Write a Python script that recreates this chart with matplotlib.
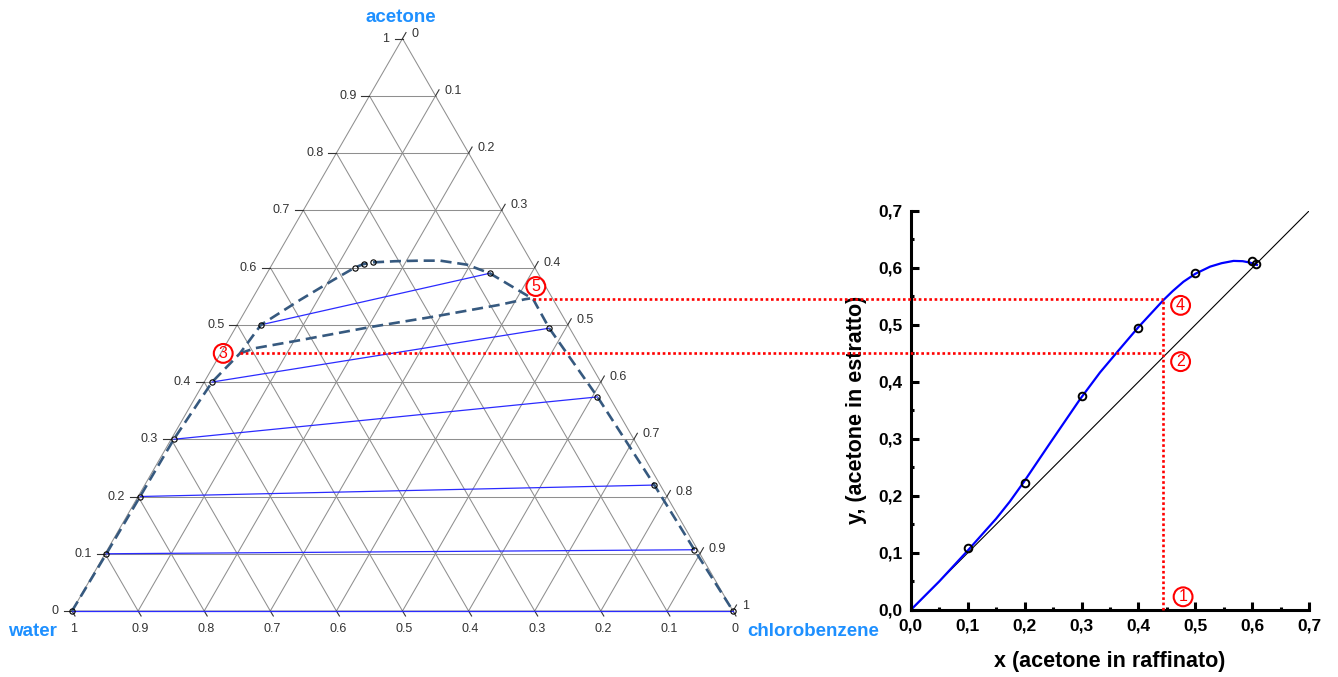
import numpy as np
import matplotlib
matplotlib.use('Agg')
import matplotlib.pyplot as plt
from matplotlib.ticker import MultipleLocator

plt.rcParams['font.family'] = ['Liberation Sans', 'DejaVu Sans']

# ---- ternary diagram (mass fractions) ----
# binodal: water corner -> plait region -> chlorobenzene corner
bin_acetone = [0.0, 0.10, 0.20, 0.30, 0.40, 0.45, 0.50, 0.543, 0.578, 0.600, 0.606, 0.609,
               0.611, 0.612, 0.612, 0.605, 0.590, 0.545, 0.494, 0.374, 0.220, 0.107, 0.0]
bin_chloro = [0.0, 0.002, 0.003, 0.004, 0.012, 0.029, 0.036, 0.073, 0.106, 0.128, 0.138, 0.151,
              0.183, 0.220, 0.251, 0.295, 0.337, 0.425, 0.475, 0.608, 0.771, 0.888, 1.0]

# tie line ends (raffinate / extract)
raff_acetone = [0.0, 0.10, 0.20, 0.30, 0.40, 0.50, 0.600, 0.606, 0.609]
raff_chloro = [0.0, 0.002, 0.003, 0.004, 0.012, 0.036, 0.128, 0.138, 0.151]
ext_acetone = [0.0, 0.107, 0.220, 0.374, 0.494, 0.590]
ext_chloro = [1.0, 0.888, 0.771, 0.608, 0.475, 0.337]

# conjugate line
conj_acetone = [0.450, 0.459, 0.473, 0.496, 0.514, 0.535, 0.5446, 0.546]
conj_chloro = [0.029, 0.047, 0.108, 0.203, 0.289, 0.380, 0.413, 0.420]

tern_ticks = np.round(np.arange(0, 1.01, 0.1), 1)

# ---- distribution diagram ----
eq_x = [0.1, 0.2, 0.3, 0.4, 0.5, 0.6, 0.607]
eq_y = [0.108, 0.222, 0.375, 0.494, 0.590, 0.611, 0.606]
fit_x = [0.0, 0.05, 0.10, 0.15, 0.174, 0.198, 0.245, 0.297, 0.3325, 0.365, 0.40, 0.444,
         0.46, 0.479, 0.50, 0.526, 0.546, 0.567, 0.583, 0.596, 0.608]
fit_y = [0.0, 0.050, 0.104, 0.160, 0.190, 0.2235, 0.293, 0.369, 0.4165, 0.455, 0.496, 0.5435,
         0.559, 0.5755, 0.5895, 0.602, 0.608, 0.612, 0.6115, 0.609, 0.605]
diag = [0.0, 0.7]
xy_ticks = np.round(np.arange(0, 0.71, 0.1), 1)

# graphical construction (points 1..5)
op_x = 0.443
op_y = [0.45, 0.545]                 # 2, 4
op_tern_acetone = [0.450, 0.545]     # 3, 5
op_tern_chloro = [0.029, 0.425]

SQ3 = np.sqrt(3) / 2


def tern(a, c):
    a = np.asarray(a, float)
    c = np.asarray(c, float)
    return c + a / 2, a * SQ3


W, H = 1338, 677
fig = plt.figure(figsize=(W / 100, H / 100), dpi=100)

# ternary axes over the whole figure, base 661 px with water corner at (72, 611)
S = 661.0
x0p, y0p = 72, 611
px = 1 / S
ax = fig.add_axes([0, 0, 1, 1])
ax.set_xlim(-x0p / S, (W - x0p) / S)
ax.set_ylim((y0p - H) / S, y0p / S)
ax.axis('off')

grid_c = '#8f8f8f'
for f in tern_ticks[1:-1]:
    ax.plot(*tern([f, f], [0, 1 - f]), color=grid_c, lw=0.75, zorder=1)
    ax.plot(*tern([0, 1 - f], [f, f]), color=grid_c, lw=0.75, zorder=1)
    ax.plot(*tern([0, 1 - f], [1 - f, 0]), color=grid_c, lw=0.75, zorder=1)
ax.plot(*tern([0, 0, 1, 0], [0, 1, 0, 0]), color=grid_c, lw=0.75, zorder=1)

lab_c = '#333333'
for v in tern_ticks:
    s = '%g' % v
    # acetone (left edge)
    xe, ye = tern(v, 0)
    ax.plot([xe, xe - 8 * px], [ye, ye], color='#333333', lw=0.8)
    ax.text(xe - 13 * px, ye, s, ha='right', va='center', fontsize=9, color=lab_c)
    # chlorobenzene (right edge)
    xe, ye = tern(1 - v, v)
    ax.plot([xe, xe + 3.5 * px], [ye, ye + 6 * px], color='#333333', lw=0.8)
    ax.text(xe + 9 * px, ye + 5 * px, s, ha='left', va='center', fontsize=9, color=lab_c)
    # water (base)
    xe, ye = tern(0, 1 - v)
    ax.plot([xe, xe + 3 * px], [ye, ye - 5 * px], color='#333333', lw=0.8)
    ax.text(xe + 2 * px, ye - 18 * px, s, ha='center', va='center', fontsize=9, color=lab_c)

name_c = '#1e90ff'
xt, yt = tern(1, 0)
ax.text(xt - 2 * px, yt + 21 * px, 'acetone', ha='center', va='center',
        fontsize=13.5, fontweight='bold', color=name_c)
xt, yt = tern(0, 0)
ax.text(xt - 39 * px, yt - 21 * px, 'water', ha='center', va='center',
        fontsize=13.5, fontweight='bold', color=name_c)
xt, yt = tern(0, 1)
ax.text(xt + 80 * px, yt - 21 * px, 'chlorobenzene', ha='center', va='center',
        fontsize=13.5, fontweight='bold', color=name_c)

# tie lines
for ra, rc, ea, ec in zip(raff_acetone, raff_chloro, ext_acetone, ext_chloro):
    xa, ya = tern([ra, ea], [rc, ec])
    ax.plot(xa, ya, color='#2b2bff', lw=0.9, zorder=2)

dash_c = '#36597f'
ax.plot(*tern(bin_acetone, bin_chloro), color=dash_c, lw=1.9, dashes=(4.2, 2.2), zorder=3)
ax.plot(*tern(conj_acetone, conj_chloro), color=dash_c, lw=1.9, dashes=(4.2, 2.2), zorder=3)

ax.plot(*tern(raff_acetone, raff_chloro), 'o', ms=3.8, mfc='none', mec='black', mew=0.8, zorder=4)
ax.plot(*tern(ext_acetone, ext_chloro), 'o', ms=3.8, mfc='none', mec='black', mew=0.8, zorder=4)

# ---- x-y distribution diagram ----
ax2 = fig.add_axes([910.7 / W, (H - 610) / H, 398.6 / W, 399.3 / H])
ax2.patch.set_visible(False)
ax2.plot(diag, diag, color='black', lw=0.8)
ax2.plot(fit_x, fit_y, color='#0000ff', lw=1.6)
ax2.plot(eq_x, eq_y, 'o', ms=5.5, mfc='none', mec='black', mew=1.4, clip_on=False)
ax2.set_xlim(0, 0.7)
ax2.set_ylim(0, 0.7)
tick_lbls = [('%.1f' % t).replace('.', ',') for t in xy_ticks]
ax2.set_xticks(xy_ticks, tick_lbls, fontsize=12.5, fontweight='bold')
ax2.set_yticks(xy_ticks, tick_lbls, fontsize=12.5, fontweight='bold')
ax2.xaxis.set_minor_locator(MultipleLocator(0.05))
ax2.yaxis.set_minor_locator(MultipleLocator(0.05))
ax2.tick_params(which='major', direction='in', length=5.5, width=2.2, pad=6)
ax2.tick_params(which='minor', direction='in', length=2.5, width=2.2)
for sp in ['top', 'right']:
    ax2.spines[sp].set_visible(False)
for sp in ['left', 'bottom']:
    ax2.spines[sp].set_linewidth(2.2)
ax2.set_xlabel('x (acetone in raffinato)', fontsize=15.5, fontweight='bold', labelpad=13)
ax2.set_ylabel('y, (acetone in estratto)', fontsize=15.5, fontweight='bold', labelpad=8)

# red dotted construction lines, from the ternary points across to the x-y plot
red_kw = dict(color='red', lw=1.9, linestyle=(0, (1, 1)), clip_on=False, zorder=5)
ax2.plot([op_x, op_x], [0, op_y[1]], **red_kw)
to_xy = ax.transData + ax2.transData.inverted()
for a, c, y in zip(op_tern_acetone, op_tern_chloro, op_y):
    x_start = to_xy.transform(np.column_stack(tern(a, c)))[0, 0]
    ax2.plot([x_start, op_x], [y, y], **red_kw)

circ = dict(boxstyle='circle,pad=0.12', fc='none', ec='red', lw=1.5)
num_kw = dict(textcoords='offset points', ha='center', va='center',
              color='red', fontsize=11.5, bbox=circ, annotation_clip=False)
ax.annotate('3', xy=tern(op_tern_acetone[0], op_tern_chloro[0]), xytext=(-12, 0), **num_kw)
ax.annotate('5', xy=tern(op_tern_acetone[1], op_tern_chloro[1]), xytext=(2, 9), **num_kw)
ax2.annotate('1', xy=(op_x, 0), xytext=(14.5, 9.5), **num_kw)
ax2.annotate('2', xy=(op_x, op_y[0]), xytext=(12.7, -6), **num_kw)
ax2.annotate('4', xy=(op_x, op_y[1]), xytext=(12.7, -4.5), **num_kw)

fig.savefig('out.png', dpi=100)
